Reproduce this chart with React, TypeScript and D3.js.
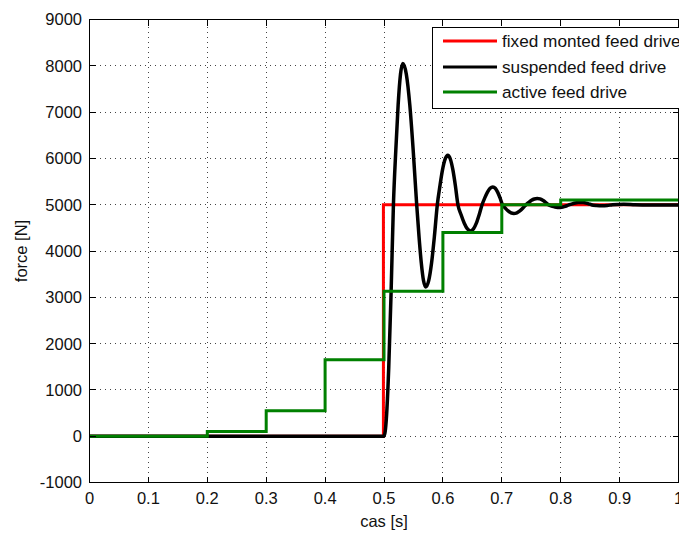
import React from 'react';
import * as d3 from 'd3';

// Axis ticks
const xTicks = [0, 0.1, 0.2, 0.3, 0.4, 0.5, 0.6, 0.7, 0.8, 0.9, 1];
const xTickLabels = ['0', '0.1', '0.2', '0.3', '0.4', '0.5', '0.6', '0.7', '0.8', '0.9', '1'];
const yTicks = [-1000, 0, 1000, 2000, 3000, 4000, 5000, 6000, 7000, 8000, 9000];

// Series names (legend order)
const seriesNames = ['fixed monted feed drive', 'suspended feed drive', 'active feed drive'];
const seriesColors = ['#ff0000', '#000000', '#008000'];

// Fixed-mounted feed drive: step force (stairs)
const fixedT = [0, 0.499, 1];
const fixedF = [0, 5000, 5000];

// Active feed drive: staircase force
const activeT = [0, 0.2, 0.3, 0.4, 0.5, 0.6, 0.7, 0.8, 1.0];
const activeF = [0, 100, 550, 1650, 3130, 4400, 5000, 5100, 5100];

// Suspended feed drive: damped oscillating force response
const suspendedT = [
  0, 0.5, 0.504, 0.508, 0.512, 0.516, 0.52, 0.524, 0.528, 0.532,
  0.5379, 0.5438, 0.5496, 0.5555, 0.5594, 0.5633, 0.5671, 0.571,
  0.5759, 0.5808, 0.5856, 0.5905, 0.595, 0.5994, 0.6039, 0.6083,
  0.6126, 0.6169, 0.6212, 0.6255, 0.6309, 0.6363, 0.6416, 0.647,
  0.6519, 0.6568, 0.6616, 0.6665, 0.6711, 0.6757, 0.6802, 0.6848,
  0.6889, 0.6929, 0.697, 0.701, 0.7059, 0.7107, 0.7156, 0.7204,
  0.7256, 0.7307, 0.7359, 0.741, 0.7458, 0.7505, 0.7553, 0.76,
  0.7648, 0.7695, 0.7743, 0.779, 0.7835, 0.788, 0.7925, 0.797,
  0.8015, 0.806, 0.8105, 0.815, 0.8198, 0.8245, 0.8293, 0.834,
  0.8385, 0.843, 0.8475, 0.852, 0.861, 0.87, 0.879, 0.888,
  0.907, 0.926, 0.95, 1.0,
];
const suspendedF = [
  0, 0, 380, 1465, 3085, 5000, 6168, 7156, 7818, 8050,
  7818, 7156, 6168, 5000, 4320, 3745, 3360, 3225,
  3360, 3745, 4320, 5000, 5409, 5756, 5988, 6069,
  5988, 5756, 5409, 5000, 4783, 4600, 4477, 4434,
  4477, 4600, 4783, 5000, 5147, 5272, 5356, 5385,
  5356, 5272, 5147, 5000, 4927, 4866, 4824, 4810,
  4824, 4866, 4927, 5000, 5051, 5095, 5124, 5134,
  5124, 5095, 5051, 5000, 4977, 4958, 4945, 4940,
  4945, 4958, 4977, 5000, 5019, 5035, 5046, 5050,
  5046, 5035, 5019, 5000, 4982, 4975, 4982, 5000,
  5010, 5000, 4995, 4995,
];

const W = 679;
const H = 533;
const FONT = '"Liberation Sans", Arial, sans-serif';

export default function App() {
  const x = d3.scaleLinear().domain([0, 1]).range([89.5, 678.5]);
  const y = d3.scaleLinear().domain([-1000, 9000]).range([482.5, 19.5]);
  const [x0, x1] = x.range();
  const [y0, y1] = y.range();

  const makeStep = (ts: number[], fs: number[]) =>
    d3
      .line<number>()
      .x((_, i) => x(ts[i]))
      .y((v) => y(v))
      .curve(d3.curveStepAfter)(fs) || '';

  const smooth =
    d3
      .line<number>()
      .x((_, i) => x(suspendedT[i]))
      .y((v) => y(v))
      .curve(d3.curveMonotoneX)(suspendedF) || '';

  const tickLen = 6;
  const legendRows = [41, 67, 92];

  return (
    <svg
      width={W}
      height={H}
      style={{ position: 'absolute', left: 0, top: 0, background: '#fff' }}
      fontFamily={FONT}
    >
      <rect x={0} y={0} width={W} height={H} fill="#fff" />

      {/* dotted grid */}
      <g stroke="#444" strokeWidth={1} strokeDasharray="1 4" shapeRendering="crispEdges">
        {xTicks.slice(1, -1).map((t) => (
          <line key={'gx' + t} x1={x(t)} x2={x(t)} y1={y0} y2={y1} />
        ))}
        {yTicks.slice(1, -1).map((v) => (
          <line key={'gy' + v} x1={x0} x2={x1} y1={y(v)} y2={y(v)} />
        ))}
      </g>

      {/* data */}
      <path d={makeStep(fixedT, fixedF)} fill="none" stroke={seriesColors[0]} strokeWidth={3} />
      <path d={smooth} fill="none" stroke={seriesColors[1]} strokeWidth={3.5} strokeLinejoin="round" />
      <path d={makeStep(activeT, activeF)} fill="none" stroke={seriesColors[2]} strokeWidth={3} />

      {/* axes box and ticks */}
      <g stroke="#000" strokeWidth={1} shapeRendering="crispEdges" fill="none">
        <rect x={x0} y={y1} width={x1 - x0} height={y0 - y1} />
        {xTicks.map((t) => (
          <g key={'tx' + t}>
            <line x1={x(t)} x2={x(t)} y1={y0} y2={y0 - tickLen} />
            <line x1={x(t)} x2={x(t)} y1={y1} y2={y1 + tickLen} />
          </g>
        ))}
        {yTicks.map((v) => (
          <g key={'ty' + v}>
            <line x1={x0} x2={x0 + tickLen} y1={y(v)} y2={y(v)} />
            <line x1={x1} x2={x1 - tickLen} y1={y(v)} y2={y(v)} />
          </g>
        ))}
      </g>

      {/* tick labels */}
      <g fontSize={16.5} fill="#111">
        {xTicks.map((t, i) => (
          <text key={'lx' + t} x={x(t)} y={504} textAnchor="middle">
            {xTickLabels[i]}
          </text>
        ))}
        {yTicks.map((v) => (
          <text key={'ly' + v} x={82} y={y(v)} dy="0.36em" textAnchor="end">
            {String(v)}
          </text>
        ))}
      </g>

      {/* axis titles */}
      <text x={(x0 + x1) / 2} y={527} textAnchor="middle" fontSize={16.5} fill="#111">
        cas [s]
      </text>
      <text
        transform={`translate(27, ${(y0 + y1) / 2}) rotate(-90)`}
        textAnchor="middle"
        fontSize={16.5}
        fill="#111"
      >
        force [N]
      </text>

      {/* legend */}
      <g>
        <rect x={432.5} y={27.5} width={300} height={81} fill="#fff" stroke="#000" strokeWidth={1} shapeRendering="crispEdges" />
        {seriesNames.map((name, i) => (
          <g key={name}>
            <line x1={443} x2={497} y1={legendRows[i]} y2={legendRows[i]} stroke={seriesColors[i]} strokeWidth={3} />
            <text x={502} y={legendRows[i] + 6} fontSize={17.2} fill="#111">
              {name}
            </text>
          </g>
        ))}
      </g>
    </svg>
  );
}
